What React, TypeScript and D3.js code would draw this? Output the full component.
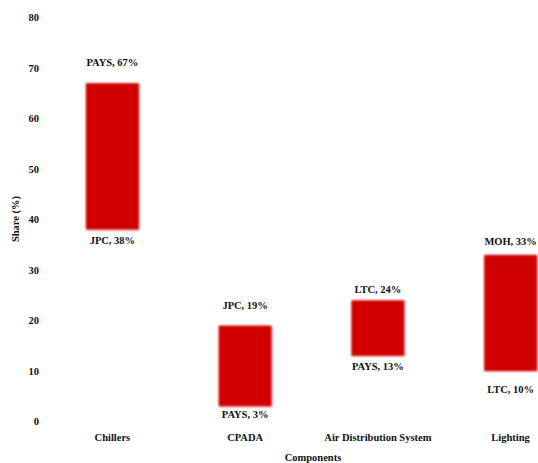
import * as d3 from 'd3';
import React, { useEffect, useRef } from 'react';

// categories and ranges (share %)
const components = ['Chillers', 'CPADA', 'Air Distribution System', 'Lighting'];
const lowValues = [38, 3, 13, 10];
const highValues = [67, 19, 24, 33];
const lowLabels = ['JPC, 38%', 'PAYS, 3%', 'PAYS, 13%', 'LTC, 10%'];
const highLabels = ['PAYS, 67%', 'JPC, 19%', 'LTC, 24%', 'MOH, 33%'];
const yTicks = [0, 10, 20, 30, 40, 50, 60, 70, 80];

// label distance from bar ends (layout only)
const highOffset = [21, 20, 11, 14];
const lowOffset = [11, 8, 10, 18];

const FONT = 'Liberation Serif, DejaVu Serif, serif';

const App: React.FC = () => {
  const svgRef = useRef<SVGSVGElement>(null);

  useEffect(() => {
    const W = 538;
    const H = 463;
    const svg = d3.select(svgRef.current);
    svg.selectAll('*').remove();
    svg.attr('width', W).attr('height', H);

    const x = d3.scalePoint<string>().domain(components).range([46, 577]).padding(0.5);
    const y = d3.scaleLinear().domain([0, 80]).range([421.5, 17.5]);
    const barW = 53;

    const g = svg.append('g');

    const label = (sel: any) =>
      sel
        .attr('font-family', FONT)
        .attr('font-weight', 'bold')
        .attr('font-size', 10.5)
        .attr('fill', '#111')
        .attr('dy', '0.35em');

    // y tick labels (no axis line)
    g.selectAll('.ytick')
      .data(yTicks)
      .enter()
      .append('text')
      .attr('x', 39)
      .attr('y', (d) => y(d))
      .attr('text-anchor', 'end')
      .call(label)
      .text((d) => d);

    // blur filter for soft bar edges
    const defs = svg.append('defs');
    const f = defs
      .append('filter')
      .attr('id', 'soft')
      .attr('x', '-10%')
      .attr('y', '-10%')
      .attr('width', '120%')
      .attr('height', '120%');
    f.append('feGaussianBlur').attr('stdDeviation', 0.8);

    // shadow
    g.selectAll('.shadow')
      .data(components)
      .enter()
      .append('rect')
      .attr('x', (d) => x(d)! - barW / 2 + 1)
      .attr('y', (_, i) => y(highValues[i]) + 1)
      .attr('width', barW)
      .attr('height', (_, i) => y(lowValues[i]) - y(highValues[i]))
      .attr('fill', '#e8b0b0')
      .attr('opacity', 0.6)
      .attr('filter', 'url(#soft)');

    g.selectAll('.bar')
      .data(components)
      .enter()
      .append('rect')
      .attr('x', (d) => x(d)! - barW / 2)
      .attr('y', (_, i) => y(highValues[i]))
      .attr('width', barW)
      .attr('height', (_, i) => y(lowValues[i]) - y(highValues[i]))
      .attr('fill', '#d10000')
      .attr('filter', 'url(#soft)');

    // value labels
    g.selectAll('.hi')
      .data(components)
      .enter()
      .append('text')
      .attr('x', (d) => x(d)!)
      .attr('y', (_, i) => y(highValues[i]) - highOffset[i])
      .attr('text-anchor', 'middle')
      .call(label)
      .text((_, i) => highLabels[i]);

    g.selectAll('.lo')
      .data(components)
      .enter()
      .append('text')
      .attr('x', (d) => x(d)!)
      .attr('y', (_, i) => y(lowValues[i]) + lowOffset[i])
      .attr('text-anchor', 'middle')
      .call(label)
      .text((_, i) => lowLabels[i]);

    // category labels
    g.selectAll('.cat')
      .data(components)
      .enter()
      .append('text')
      .attr('x', (d) => x(d)!)
      .attr('y', 437)
      .attr('text-anchor', 'middle')
      .call(label)
      .text((d) => d);

    // axis titles
    g.append('text')
      .attr('x', 313)
      .attr('y', 457)
      .attr('text-anchor', 'middle')
      .call(label)
      .text('Components');

    g.append('text')
      .attr('transform', 'translate(15,219) rotate(-90)')
      .attr('text-anchor', 'middle')
      .call(label)
      .text('Share (%)');
  }, []);

  return <svg ref={svgRef} style={{ position: 'absolute', left: 0, top: 0 }} />;
};

export default App;
